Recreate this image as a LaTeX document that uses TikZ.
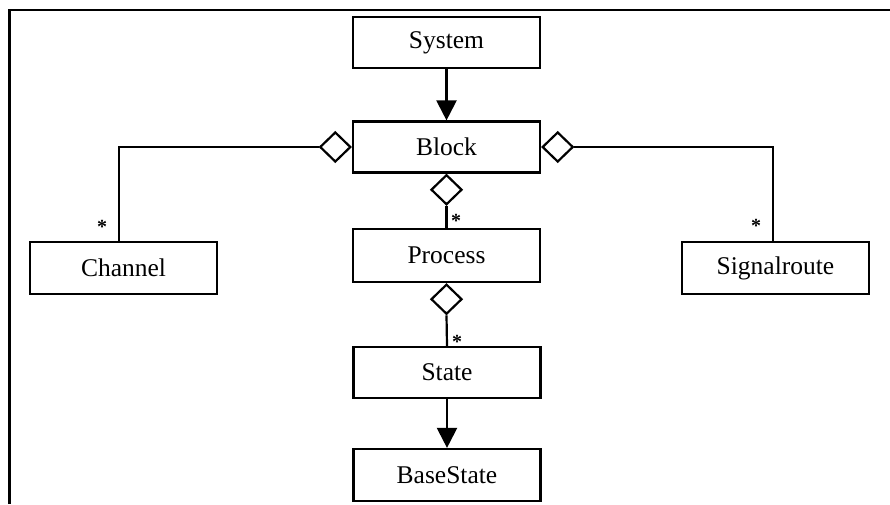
\documentclass[tikz,border=0pt]{standalone}
\usepackage{fontspec}
\setmainfont{Liberation Serif}
\usetikzlibrary{shapes.geometric,arrows.meta}
\begin{document}
\begin{tikzpicture}[x=1pt,y=-1pt,
  cls/.style={draw,line width=2.2pt,fill=white,minimum width=187pt,minimum height=51pt,
    inner sep=0pt,font=\fontsize{25.5}{30}\selectfont},
  agg/.style={draw,diamond,line width=2.2pt,fill=white,minimum width=31pt,minimum height=30pt,inner sep=0pt},
  conn/.style={line width=2.2pt},
  gen/.style={line width=2.2pt,-{Triangle[width=20pt,length=20pt]}},
  mult/.style={font=\fontsize{20}{20}\selectfont\bfseries,inner sep=0pt,anchor=base}]
\useasboundingbox (0,0) rectangle (890,504);
% frame
\draw[line width=2.6pt] (9.5,504) -- (9.5,10) -- (890,10);
% classes
\node[cls] (system) at (446.5,42.5) {System};
\node[cls] (block) at (446.5,147) {Block};
\node[cls,minimum height=53pt] (process) at (446.5,255.5) {Process};
\node[cls] (state) at (447,372.5) {State};
\node[cls,minimum height=52pt] (base) at (447,475) {BaseState};
\node[cls,minimum height=52pt] (channel) at (123.5,268) {Channel};
\node[cls,minimum height=52pt] (sigroute) at (775.5,268) {Signalroute};
% aggregation diamonds
\node[agg,anchor=east] (dl) at (block.west) {};
\node[agg,anchor=west] (dr) at (block.east) {};
\node[agg,anchor=north] (db) at (block.south) {};
\node[agg,anchor=north] (dp) at (process.south) {};
% connectors
\draw[gen] (system.south) -- (block.north);
\draw[gen] (state.south) -- (base.north);
\draw[conn] (dl.west) -| ([xshift=-4.5pt]channel.north);
\draw[conn] (dr.east) -| ([xshift=-2.5pt]sigroute.north);
\draw[conn] (db.south) -- (process.north);
\draw[conn] (dp.south) -- (state.north);
% multiplicities
\node[mult] (m1) at ([xshift=9.5pt]process.north) {*};
\node[mult] (m2) at ([xshift=10pt,yshift=-2.5pt]state.north) {*};
\node[mult] (m3) at ([xshift=-21.5pt,yshift=7.5pt]channel.north) {*};
\node[mult] (m4) at ([xshift=-19.5pt,yshift=8.5pt]sigroute.north) {*};
\end{tikzpicture}
\end{document}
